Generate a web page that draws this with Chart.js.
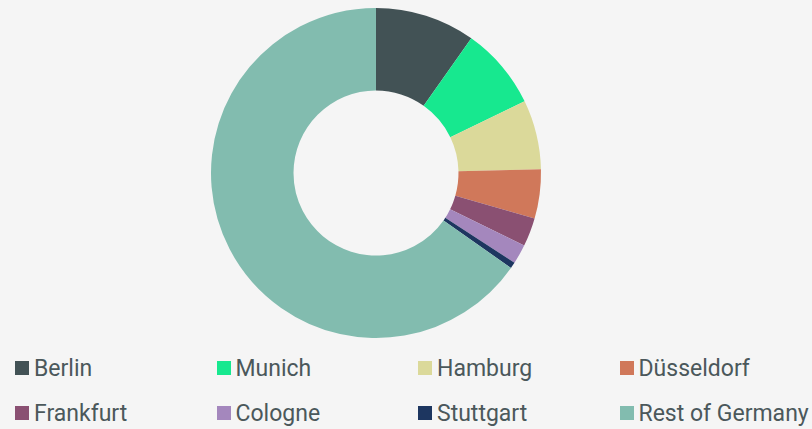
<!DOCTYPE html>
<html>
<head>
<meta charset="utf-8">
<script src="https://cdn.jsdelivr.net/npm/chart.js@4"></script>
<style>
  html, body { margin: 0; padding: 0; background: #f5f5f5; }
  body { width: 812px; height: 429px; overflow: hidden; font-family: Roboto, "Noto Sans", sans-serif; }
  #wrap { position: absolute; left: 0; top: 0; width: 812px; height: 346px; }
  #legend { position: absolute; left: 15px; top: 352px; width: 806px;
            display: grid; grid-template-columns: repeat(4, 201.5px); row-gap: 13px; }
  .item { display: flex; align-items: center; height: 32px; color: #4b585b; font-size: 23px; white-space: nowrap; }
  .box { width: 14px; height: 14px; margin-right: 5px; flex: none; }
</style>
</head>
<body>
<div id="wrap"><canvas id="chart"></canvas></div>
<div id="legend"></div>
<script>
const cities = ["Berlin", "Munich", "Hamburg", "Düsseldorf", "Frankfurt", "Cologne", "Stuttgart", "Rest of Germany"];
const shares = [9.8, 8.05, 6.8, 4.8, 2.8, 1.9, 0.6, 65.25];
const colors = ["#425255", "#17e88f", "#dbd99a", "#d0785a", "#8a5072", "#a487bd", "#1d3660", "#82bcaf"];

new Chart(document.getElementById("chart"), {
  type: "doughnut",
  data: {
    labels: cities,
    datasets: [{ data: shares, backgroundColor: colors, borderWidth: 0 }],
  },
  options: {
    responsive: true,
    maintainAspectRatio: false,
    animation: false,
    cutout: "50%",
    layout: { padding: { top: 8, bottom: 8, left: 0, right: 60 } },
    plugins: { legend: { display: false }, tooltip: { enabled: false } },
  },
});

// legend in a fixed 4-column grid
document.getElementById("legend").innerHTML = cities
  .map((c, i) => `<div class="item"><span class="box" style="background:${colors[i]}"></span>${c}</div>`)
  .join("");
</script>
</body>
</html>
